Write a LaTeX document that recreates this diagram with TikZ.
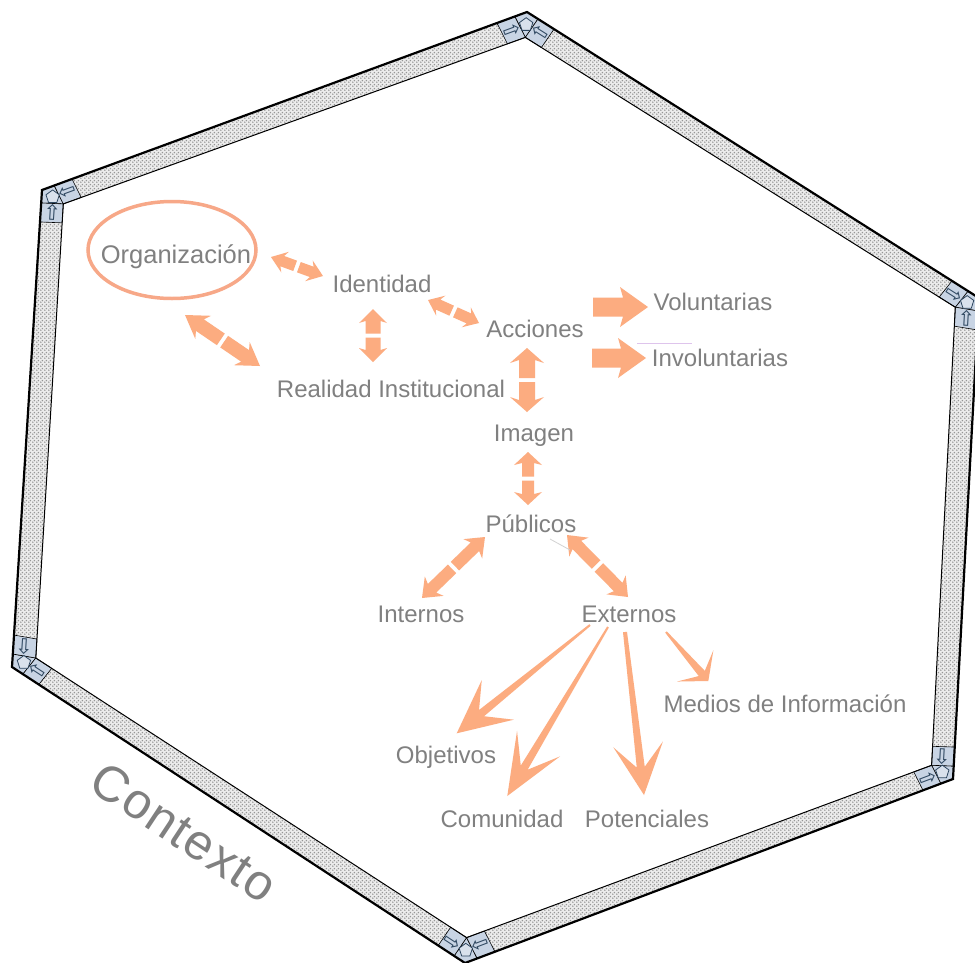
\documentclass[tikz,border=0pt]{standalone}
\usepackage{fontspec}
\setmainfont{Liberation Sans}
\newfontfamily\dejavu{DejaVu Sans}
\usetikzlibrary{calc,patterns,shapes.geometric}
\definecolor{arrowcol}{RGB}{252,172,128}
\definecolor{labelgray}{RGB}{128,128,128}
\definecolor{tilecol}{RGB}{200,212,228}
\definecolor{iconcol}{RGB}{45,70,95}
\definecolor{ellcol}{RGB}{247,168,136}
\definecolor{lavender}{RGB}{222,196,236}
\definecolor{dotcol}{RGB}{150,150,150}
\pgfdeclarepatternformonly{bandots}{\pgfqpoint{0pt}{0pt}}{\pgfqpoint{4pt}{4pt}}{\pgfqpoint{4pt}{4pt}}{%
  \pgfpathcircle{\pgfqpoint{1pt}{1pt}}{0.95pt}%
  \pgfpathcircle{\pgfqpoint{3pt}{3pt}}{0.95pt}%
  \pgfusepath{fill}}
\tikzset{
  arrowfill/.style={fill=arrowcol},
  lbl/.style={font=\fontsize{24}{28}\selectfont, text=labelgray, inner sep=0pt, anchor=base},
  ctxlbl/.style={font=\fontsize{50}{54}\selectfont\addfontfeature{LetterSpace=3}, text=labelgray, inner sep=0pt},
  tile/.style={fill=tilecol, draw=black, line width=0.6pt},
  icon/.style={text=iconcol, font=\dejavu\fontsize{21}{21}\selectfont, inner sep=0pt},
  pent/.style={regular polygon, regular polygon sides=5, draw=iconcol, fill=tilecol!70!white, line width=0.8pt, minimum size=14pt, inner sep=0pt},
  band/.style={pattern=bandots, pattern color=dotcol},
}
% #1 start, #2 tip, #3 head length, #4 notch distance, #5 head half width, #6 shaft half width at start, #7 shaft half width at head
\newcommand\blockarr[7]{%
  \path ($(#2)!#3!(#1)$) coordinate (bah);
  \path ($(#2)!#4!(#1)$) coordinate (ban);
  \fill[arrowfill] ($(#1)!#6!90:(#2)$) -- ($(ban)!#7!90:(#2)$) -- ($(bah)!#5!90:(#2)$) -- (#2)
    -- ($(bah)!#5!-90:(#2)$) -- ($(ban)!#7!-90:(#2)$) -- ($(#1)!#6!-90:(#2)$) -- cycle;
}
% #1 tip A, #2 tip B, #3 head length, #4 notch, #5 head half width, #6 shaft half width
\newcommand\dblarr[6]{%
  \path ($(#1)!0.5!(#2)$) coordinate (dm);
  \path ($(dm)!2pt!(#1)$) coordinate (dmA);
  \path ($(dm)!2pt!(#2)$) coordinate (dmB);
  \blockarr{dmA}{#1}{#3}{#4}{#5}{#6}{#6}
  \blockarr{dmB}{#2}{#3}{#4}{#5}{#6}{#6}
}
\begin{document}
\begin{tikzpicture}[x=1pt,y=-1pt]
\useasboundingbox (0,0) rectangle (975,962);
\clip (0,0) rectangle (975,962);
\fill[white] (0,0) rectangle (975,962);

% hexagon vertices
\coordinate (o1) at (527,12);
\coordinate (o2) at (979,298);
\coordinate (o3) at (953,779);
\coordinate (o4) at (465,963);
\coordinate (o5) at (12,667);
\coordinate (o6) at (42,190);
\coordinate (i1) at (525.3,37.4);
\coordinate (i2) at (955.3,307.2);
\coordinate (i3) at (931.6,765.3);
\coordinate (i4) at (466.6,937.6);
\coordinate (i5) at (35.8,658.0);
\coordinate (i6) at (63.3,203.9);

\fill[gray!15, even odd rule] (o1)--(o2)--(o3)--(o4)--(o5)--(o6)--cycle (i1)--(i2)--(i3)--(i4)--(i5)--(i6)--cycle;
\fill[band, even odd rule] (o1)--(o2)--(o3)--(o4)--(o5)--(o6)--cycle (i1)--(i2)--(i3)--(i4)--(i5)--(i6)--cycle;

\foreach \k/\n/\p/\ra/\rb in {1/2/6/-32.3/-159.8, 2/3/1/-93.1/147.7, 3/4/2/-159.3/86.9, 4/5/3/-213.2/20.7, 5/6/4/-273.6/-33.2, 6/1/5/-339.8/-93.6}{
  \path ($(o\k)!13pt!(o\n)$) coordinate (A1);
  \path ($(o\k)!32pt!(o\n)$) coordinate (A2);
  \path ($(i\k)!19pt!(i\n)$) coordinate (B1);
  \path ($(o\k)!13pt!(o\p)$) coordinate (C1);
  \path ($(o\k)!32pt!(o\p)$) coordinate (C2);
  \path ($(i\k)!19pt!(i\p)$) coordinate (D1);
  \filldraw[tile] (o\k) -- (A1) -- (i\k) -- (C1) -- cycle;
  \filldraw[tile] (A1) -- (A2) -- (B1) -- (i\k) -- cycle;
  \filldraw[tile] (C1) -- (C2) -- (D1) -- (i\k) -- cycle;
  \node[icon, rotate=\ra] (ia\k) at ($(A1)!0.5!(B1)$) {⇦};
  \node[icon, rotate=\rb] (ib\k) at ($(C1)!0.5!(D1)$) {⇦};
  \node[pent] (pc\k) at ($(o\k)!0.5!(i\k)$) {};
}
\draw[line width=2.2pt, line join=miter] (o1)--(o2)--(o3)--(o4)--(o5)--(o6)--cycle;
\draw[line width=1pt] (i1)--(i2)--(i3)--(i4)--(i5)--(i6)--cycle;

% labels
\node[ellipse, draw=ellcol, line width=3.5pt, minimum width=168pt, minimum height=97pt] (orgell) at (172,250) {};
\node[lbl, font=\fontsize{25.5}{30}\selectfont] (org) at (176,263) {Organización};
\node[lbl] (ide) at (382,292) {Identidad};
\node[lbl] (rea) at (391,397) {Realidad Institucional};
\node[lbl] (acc) at (535,337) {Acciones};
\node[lbl] (vol) at (713,310) {Voluntarias};
\node[lbl] (inv) at (720,366) {Involuntarias};
\node[lbl] (ima) at (534,441) {Imagen};
\node[lbl] (pub) at (531,532) {Públicos};
\node[lbl] (int) at (421,622) {Internos};
\node[lbl] (ext) at (629,622) {Externos};
\node[lbl] (med) at (785,712) {Medios de Información};
\node[lbl] (obj) at (446,763) {Objetivos};
\node[lbl] (com) at (502,827) {Comunidad};
\node[lbl] (pot) at (647,827) {Potenciales};
\node[ctxlbl, rotate=-33.5] (ctx) at (184,832) {Contexto};

% connector end points
\coordinate (oiA) at (271,257);   \coordinate (oiB) at (323,276);
\coordinate (orA) at (185,315);   \coordinate (orB) at (260,366);
\coordinate (irA) at (373,309);   \coordinate (irB) at (373,362);
\coordinate (iaA) at (428,300);   \coordinate (iaB) at (479,323);
\coordinate (aiA) at (527,348);   \coordinate (aiB) at (527,412);
\coordinate (ipA) at (528,452);   \coordinate (ipB) at (528,505);
\coordinate (pnA) at (485,537);   \coordinate (pnB) at (422,598);
\coordinate (peA) at (567,535);   \coordinate (peB) at (628,597);
\coordinate (avS) at (593,307);   \coordinate (avT) at (648,307);
\coordinate (anS) at (592,358);   \coordinate (anT) at (646,358);
\coordinate (eoS) at (590,625);   \coordinate (eoT) at (456.7,733.3);
\coordinate (ecS) at (608,627);   \coordinate (ecT) at (507.3,796);
\coordinate (epS) at (625,632);   \coordinate (epT) at (644,795);
\coordinate (emS) at (666,632);   \coordinate (emT) at (708.3,681);

\dblarr{oiA}{oiB}{15pt}{12pt}{11pt}{5.5pt}
\dblarr{orA}{orB}{22pt}{18pt}{14pt}{7pt}
\dblarr{irA}{irB}{14pt}{12pt}{14pt}{7.5pt}
\dblarr{iaA}{iaB}{14pt}{11pt}{11pt}{5.5pt}
\dblarr{aiA}{aiB}{15pt}{12pt}{17pt}{8pt}
\dblarr{ipA}{ipB}{13pt}{11pt}{14pt}{6pt}
\dblarr{pnA}{pnB}{17pt}{14pt}{13.5pt}{6pt}
\dblarr{peA}{peB}{17pt}{14pt}{13.5pt}{6pt}

\blockarr{avS}{avT}{28pt}{25pt}{20pt}{9.5pt}{9.5pt}
\blockarr{anS}{anT}{28pt}{25pt}{20pt}{9.5pt}{9.5pt}

\blockarr{eoS}{eoT}{53pt}{32pt}{25.5pt}{1pt}{4pt}
\blockarr{ecS}{ecT}{61pt}{33pt}{25pt}{1pt}{4pt}
\blockarr{epS}{epT}{51pt}{28pt}{25pt}{2pt}{4pt}
\blockarr{emS}{emT}{20pt}{10pt}{24pt}{1pt}{4pt}

% thin stray lines
\coordinate (lvA) at (637,343); \coordinate (lvB) at (692,343);
\draw[lavender, line width=1pt] (lvA) -- (lvB);
\coordinate (lgA) at (550,539); \coordinate (lgB) at (570,550);
\draw[gray!35, line width=0.8pt] (lgA) -- (lgB);
\end{tikzpicture}
\end{document}
